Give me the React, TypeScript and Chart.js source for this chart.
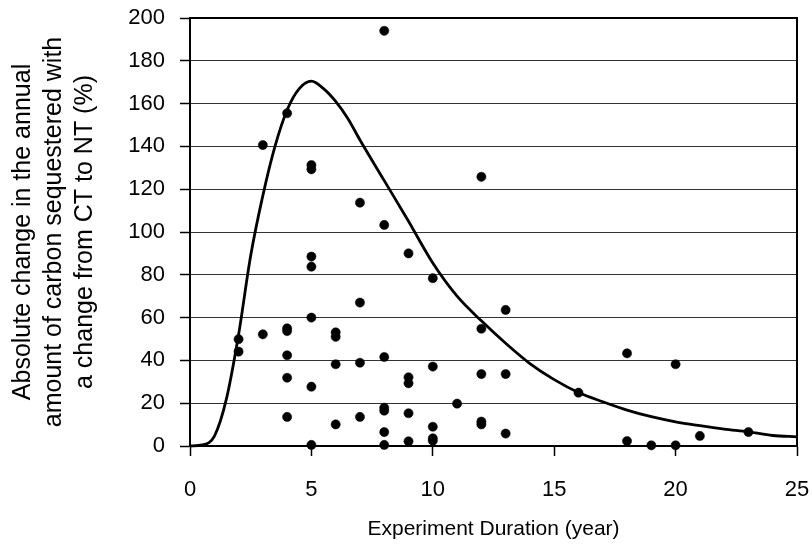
import React, { useEffect, useRef } from 'react';
import { Chart, registerables } from 'chart.js';

Chart.register(...registerables);

// Observed experiments: duration (years) and absolute change (%)
const pointDurations = [
  2, 2,
  3, 3,
  4, 4, 4, 4, 4, 4,
  5, 5, 5, 5, 5, 5, 5,
  6, 6, 6, 6,
  7, 7, 7, 7,
  8, 8, 8, 8, 8, 8, 8,
  9, 9, 9, 9, 9,
  10, 10, 10, 10, 10,
  11,
  12, 12, 12, 12, 12,
  13, 13, 13,
  16,
  18, 18,
  19,
  20, 20,
  21,
  23,
];
const pointChanges = [
  49.9, 44.1,
  140.6, 52.2,
  155.5, 55, 53.7, 42.4, 31.9, 13.6,
  131.3, 129.3, 88.5, 83.8, 60, 27.7, 0.5,
  53.1, 51, 38.2, 10.1,
  113.7, 67, 38.9, 13.6,
  194, 103.3, 41.6, 17.9, 16.5, 6.5, 0.5,
  90, 32.1, 29.3, 15.3, 2.2,
  78.4, 37.1, 9.0, 3.6, 2.5,
  19.8,
  125.8, 54.8, 33.6, 11.4, 10.1,
  63.6, 33.6, 5.8,
  24.9,
  43.3, 2.3,
  0.3,
  38.2, 0.3,
  4.7,
  6.5,
];

// Fitted curve
const curveDurations = [0, 0.5, 1, 1.5, 2, 2.5, 3, 3.5, 4, 4.5, 5, 5.5, 6, 6.5, 7, 8, 9, 10, 11, 12, 13, 14, 15, 16, 17, 18, 19, 20, 21, 22, 23, 24, 25];
const curveChanges = [0, 0.5, 4.5, 22, 52, 89, 117, 140, 157, 167, 170.5, 167, 161, 153, 143, 124, 105, 85.5, 70, 58.5, 48, 38.5, 31, 25, 20.7, 16.8, 13.7, 11.3, 9.5, 7.9, 6.6, 4.9, 4.3];

const xTitle = 'Experiment Duration (year)';
const yTitleLines = [
  'Absolute change in the annual',
  'amount of carbon sequestered with',
  'a change from CT to NT (%)',
];
const xMin = 0, xMax = 25, xStep = 5;
const yMin = 0, yMax = 200, yStep = 20;

const FONT = "'Liberation Sans', Arial, Helvetica, sans-serif";

const framePlugin = {
  id: 'frame',
  afterDraw(chart: any) {
    const { ctx, chartArea } = chart;
    ctx.save();
    ctx.strokeStyle = '#000';
    ctx.lineWidth = 2;
    ctx.strokeRect(chartArea.left, chartArea.top, chartArea.right - chartArea.left, chartArea.bottom - chartArea.top);
    ctx.restore();
  },
};

export default function App() {
  const canvasRef = useRef<HTMLCanvasElement | null>(null);

  useEffect(() => {
    if (!canvasRef.current) return;
    const points = pointDurations.map((d, i) => ({ x: d, y: pointChanges[i] }));
    const curve = curveDurations.map((d, i) => ({ x: d, y: curveChanges[i] }));
    const chart = new Chart(canvasRef.current, {
      type: 'scatter',
      data: {
        datasets: [
          {
            type: 'line',
            data: curve,
            borderColor: '#000',
            borderWidth: 2.8,
            pointRadius: 0,
            fill: false,
            cubicInterpolationMode: 'monotone',
            clip: false,
            order: 2,
          } as any,
          {
            type: 'scatter',
            data: points,
            backgroundColor: '#000',
            borderColor: '#000',
            pointRadius: 4.6,
            borderWidth: 0.5,
            clip: false,
            order: 1,
          } as any,
        ],
      },
      options: {
        animation: false,
        responsive: true,
        maintainAspectRatio: false,
        layout: { padding: { left: 0, right: 15, top: 18, bottom: 0 } },
        plugins: { legend: { display: false }, tooltip: { enabled: false }, title: { display: false } },
        scales: {
          x: {
            type: 'linear',
            min: xMin,
            max: xMax,
            afterFit: (s: any) => { s.height = 98; s.paddingLeft = 0; s.paddingRight = 0; },
            ticks: { stepSize: xStep, color: '#000', font: { family: FONT, size: 22 }, padding: 21, maxRotation: 0 },
            grid: { drawOnChartArea: false, drawTicks: true, tickLength: 10, tickColor: '#000', tickWidth: 1.5 },
            border: { display: true, color: '#000', width: 2 },
            title: { display: true, text: xTitle, color: '#000', font: { family: FONT, size: 21 }, padding: { top: 0, bottom: 2 } },
          },
          y: {
            type: 'linear',
            min: yMin,
            max: yMax,
            afterFit: (s: any) => { s.width = 190; s.paddingTop = 0; s.paddingBottom = 0; },
            ticks: { stepSize: yStep, color: '#000', font: { family: FONT, size: 22 }, padding: 15 },
            grid: { color: '#333', lineWidth: 1, drawTicks: true, tickLength: 10, tickColor: '#000', tickWidth: 1.5 },
            border: { display: true, color: '#000', width: 2 },
            title: { display: true, text: yTitleLines, color: '#000', font: { family: FONT, size: 25, lineHeight: 1.24 }, padding: { top: 8, bottom: 0 } },
          },
        },
      },
      plugins: [framePlugin],
    } as any);
    return () => chart.destroy();
  }, []);

  return (
    <div style={{ position: 'absolute', left: 0, top: 0, width: 812, height: 544, background: '#fff' }}>
      <canvas ref={canvasRef} />
    </div>
  );
}
